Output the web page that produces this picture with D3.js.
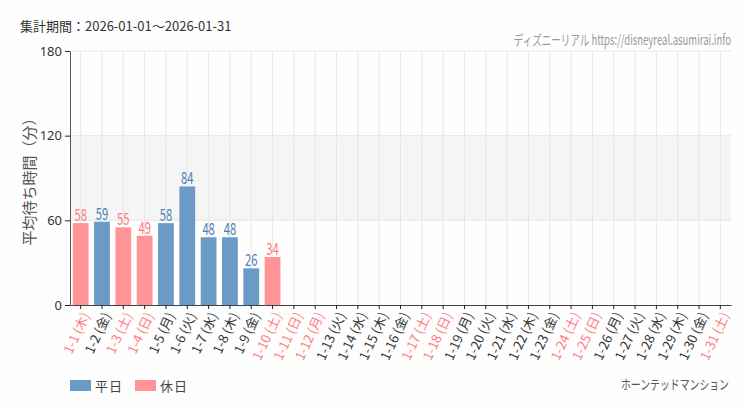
<!DOCTYPE html>
<html>
<head>
<meta charset="utf-8">
<script src="https://cdn.jsdelivr.net/npm/d3@7"></script>
<style>
  body { margin: 0; background: #fdfefd; }
  text { font-family: 'Noto Sans CJK JP', 'Noto Sans', sans-serif; }
</style>
</head>
<body>
<div id="chart"></div>
<script>
const days = d3.range(1, 32).map(d => '1-' + d)
const weekdays = ['木', '金', '土', '日', '月', '火', '水']
const holidays = ['1-1', '1-3', '1-4', '1-10', '1-11', '1-12', '1-17', '1-18', '1-24', '1-25', '1-31']
const waits = [58, 59, 55, 49, 58, 84, 48, 48, 26, 34]
const yTicks = [0, 60, 120, 180]

const width = 750
const height = 410
const margin = { top: 51, left: 70, right: 19, bottom: 105 }

const blue = '#6b9ac6'
const red = '#ff9396'
const blueText = '#4f80b5'
const redText = '#ff7b7e'

// no condensed font installed, so squeeze horizontally
const squeeze = 0.68

const svg = d3
  .select('#chart')
  .append('svg')
  .attr('width', width)
  .attr('height', height)

const x = d3
  .scaleBand()
  .domain(days)
  .range([margin.left, width - margin.right])
  .paddingInner(0.26)
  .paddingOuter(0.13)

const y = d3
  .scaleLinear()
  .domain([0, 180])
  .range([height - margin.bottom, margin.top])

const isHoliday = d => holidays.includes(d)

// shaded band 60-120
svg
  .append('rect')
  .attr('x', margin.left)
  .attr('y', y(120))
  .attr('width', width - margin.right - margin.left)
  .attr('height', y(60) - y(120))
  .attr('fill', '#f4f5f4')

// grid
svg
  .append('g')
  .selectAll('line')
  .data(days)
  .join('line')
  .attr('x1', d => x(d) + x.bandwidth() / 2)
  .attr('x2', d => x(d) + x.bandwidth() / 2)
  .attr('y1', y(180))
  .attr('y2', y(0))
  .attr('stroke', '#e6e6e6')

svg
  .append('g')
  .selectAll('line')
  .data(yTicks.slice(1))
  .join('line')
  .attr('x1', margin.left)
  .attr('x2', width - margin.right)
  .attr('y1', d => y(d))
  .attr('y2', d => y(d))
  .attr('stroke', '#e6e6e6')

// bars
const barData = waits.map((v, i) => ({ day: days[i], value: v }))

svg
  .append('g')
  .selectAll('rect')
  .data(barData)
  .join('rect')
  .attr('x', d => x(d.day))
  .attr('width', x.bandwidth())
  .attr('y', d => y(d.value))
  .attr('height', d => y(0) - y(d.value))
  .attr('fill', d => (isHoliday(d.day) ? red : blue))

svg
  .append('g')
  .selectAll('text')
  .data(barData)
  .join('text')
  .attr('transform', d => `translate(${x(d.day) + x.bandwidth() / 2},${y(d.value) - 2}) scale(0.66,1)`)
  .attr('text-anchor', 'middle')
  .attr('font-size', 17)
  .attr('fill', d => (isHoliday(d.day) ? redText : blueText))
  .text(d => d.value)

// axes
const yAxis = svg
  .append('g')
  .attr('transform', `translate(${margin.left},0)`)
  .call(d3.axisLeft(y).tickValues(yTicks).tickSize(5).tickSizeOuter(0))
yAxis.select('.domain').attr('stroke', '#555')
yAxis.selectAll('.tick line').attr('stroke', '#222')
yAxis
  .selectAll('.tick text')
  .attr('font-size', 13)
  .attr('fill', '#333')
  .style('font-family', "'Noto Sans', sans-serif")

const xAxis = svg
  .append('g')
  .attr('transform', `translate(0,${y(0)})`)
  .call(d3.axisBottom(x).tickSize(4).tickSizeOuter(0).tickFormat(d => d + ' (' + weekdays[(+d.split('-')[1] - 1) % 7] + ')'))
xAxis.select('.domain').attr('stroke', '#444')
xAxis.selectAll('.tick line').attr('stroke', '#222')
xAxis
  .selectAll('.tick text')
  .attr('font-size', 13)
  .attr('fill', d => (isHoliday(d) ? redText : '#333'))
  .attr('text-anchor', 'end')
  .attr('dx', '-0.4em')
  .attr('dy', '0.45em')
  .attr('transform', 'rotate(-65)')

// titles
svg
  .append('text')
  .attr('x', 20)
  .attr('y', 31)
  .attr('font-size', 13)
  .attr('fill', '#333')
  .text('集計期間：2026-01-01～2026-01-31')

svg
  .append('text')
  .attr('transform', `translate(${width - margin.right},45) scale(${squeeze},1)`)
  .attr('text-anchor', 'end')
  .attr('font-size', 14)
  .attr('fill', '#999')
  .text('ディズニーリアル https://disneyreal.asumirai.info')

svg
  .append('text')
  .attr('transform', `translate(35,${(y(0) + y(180)) / 2}) rotate(-90)`)
  .attr('text-anchor', 'middle')
  .attr('font-size', 15)
  .attr('fill', '#555')
  .text('平均待ち時間（分）')

// legend
const legend = [
  { label: '平日', color: blue, x: 70 },
  { label: '休日', color: red, x: 135 }
]
const lg = svg
  .append('g')
  .selectAll('g')
  .data(legend)
  .join('g')
  .attr('transform', d => `translate(${d.x},380)`)
lg.append('rect').attr('width', 21).attr('height', 11).attr('fill', d => d.color)
lg
  .append('text')
  .attr('x', 25)
  .attr('y', 10.5)
  .attr('font-size', 13)
  .attr('fill', '#444')
  .attr('letter-spacing', 1)
  .text(d => d.label)

svg
  .append('text')
  .attr('transform', `translate(${width - margin.right - 2},389) scale(0.76,1)`)
  .attr('text-anchor', 'end')
  .attr('font-size', 13)
  .attr('fill', '#555')
  .text('ホーンテッドマンション')
</script>
</body>
</html>
